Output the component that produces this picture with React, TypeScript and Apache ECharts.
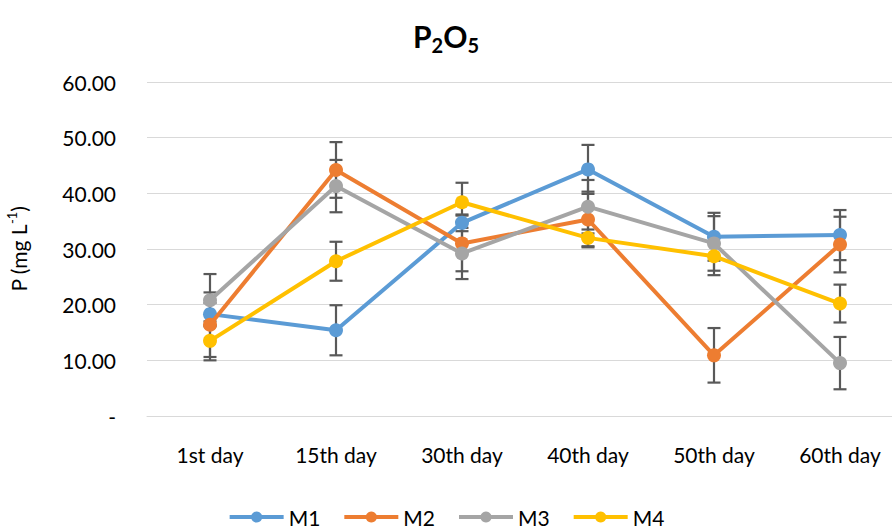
import React, { useEffect, useRef } from "react";
import * as echarts from "echarts";

const categories = ["1st day", "15th day", "30th day", "40th day", "50th day", "60th day"];
const seriesNames = ["M1", "M2", "M3", "M4"];
const m1 = [18.3, 15.4, 34.7, 44.3, 32.2, 32.5];
const m2 = [16.4, 44.2, 31.0, 35.3, 10.9, 30.8];
const m3 = [20.8, 41.3, 29.2, 37.6, 31.0, 9.5];
const m4 = [13.5, 27.8, 38.4, 32.0, 28.7, 20.2];
const e1 = [2.0, 4.5, 1.5, 4.4, 4.3, 4.5];
const e2 = [5.8, 5.0, 5.0, 5.0, 4.9, 5.0];
const e3 = [4.7, 4.7, 4.6, 4.8, 4.9, 4.7];
const e4 = [3.5, 3.5, 3.5, 1.5, 3.4, 3.4];
const colors = ["#5B9BD5", "#ED7D31", "#A5A5A5", "#FFC000"];
const yTicks = [0, 10, 20, 30, 40, 50, 60];

const FONT = "Lato, 'Open Sans', sans-serif";

export default function App() {
  const ref = useRef<HTMLDivElement>(null);
  useEffect(() => {
    if (!ref.current) return;
    const chart = echarts.init(ref.current, undefined, { renderer: "svg" });
    const values = [m1, m2, m3, m4];
    const errs = [e1, e2, e3, e4];
    const errData: number[][] = [];
    values.forEach((vals, s) => {
      vals.forEach((v, i) => {
        errData.push([i, v - errs[s][i], v + errs[s][i]]);
      });
    });
    const lineSeries = values.map((vals, s) => ({
      name: seriesNames[s],
      type: "line",
      data: vals,
      symbol: "circle",
      symbolSize: 14,
      lineStyle: { width: 4, color: colors[s] },
      itemStyle: { color: colors[s] },
      z: 3 + s,
    }));
    const errSeries = {
      type: "custom",
      z: 2,
      silent: true,
      data: errData,
      encode: { x: 0, y: [1, 2] },
      renderItem: (params: any, api: any) => {
        const x = api.value(0);
        const lo = api.coord([x, api.value(1)]);
        const hi = api.coord([x, api.value(2)]);
        const w = 6.5;
        const st = { stroke: "#595959", lineWidth: 2.2 };
        return {
          type: "group",
          children: [
            { type: "line", shape: { x1: lo[0], y1: lo[1], x2: hi[0], y2: hi[1] }, style: st },
            { type: "line", shape: { x1: lo[0] - w, y1: lo[1], x2: lo[0] + w, y2: lo[1] }, style: st },
            { type: "line", shape: { x1: hi[0] - w, y1: hi[1], x2: hi[0] + w, y2: hi[1] }, style: st },
          ],
        };
      },
    };
    chart.setOption({
      animation: false,
      title: {
        text: "{a|P}{b|2}{a|O}{b|5}",
        left: "center",
        top: 12,
        textStyle: {
          rich: {
            a: { fontFamily: FONT, fontSize: 30, fontWeight: "bold", color: "#000", lineHeight: 38, verticalAlign: "middle" },
            b: { fontFamily: FONT, fontSize: 20, fontWeight: "bold", color: "#000", lineHeight: 38, verticalAlign: "bottom", padding: [16, 0, 0, 0] },
          },
        },
      },
      legend: {
        data: seriesNames,
        bottom: 1,
        left: "center",
        padding: 0,
        itemWidth: 54,
        itemHeight: 14,
        itemGap: 22,
        lineStyle: { width: 4 },
        textStyle: { fontFamily: FONT, fontSize: 21, color: "#000", lineHeight: 22 },
      },
      grid: { left: 147, top: 82, width: 756, height: 334, outerBoundsMode: "none", containLabel: false },
      xAxis: {
        type: "category",
        data: categories,
        boundaryGap: true,
        axisLine: { show: true, lineStyle: { color: "#D9D9D9", width: 1 } },
        axisTick: { show: false },
        axisLabel: { fontFamily: FONT, fontSize: 21, color: "#000", margin: 28 },
      },
      yAxis: {
        type: "value",
        min: yTicks[0],
        max: yTicks[yTicks.length - 1],
        interval: 10,
        name: "{a|P (mg L}{b|-1}{a|)}",
        nameLocation: "middle",
        nameGap: 116,
        nameRotate: 90,
        nameTextStyle: {
          rich: {
            a: { fontFamily: FONT, fontSize: 21, color: "#000", lineHeight: 26, verticalAlign: "middle" },
            b: { fontFamily: FONT, fontSize: 13, color: "#000", lineHeight: 26, verticalAlign: "top" },
          },
        },
        axisLine: { show: false },
        axisTick: { show: false },
        splitLine: { lineStyle: { color: "#D9D9D9", width: 1 } },
        axisLabel: {
          fontFamily: FONT,
          fontSize: 21,
          color: "#000",
          margin: 31,
          formatter: (v: number) => (v === 0 ? "-" : v.toFixed(2)),
        },
      },
      series: [errSeries, ...lineSeries],
    });
    return () => chart.dispose();
  }, []);
  return (
    <div
      ref={ref}
      style={{ position: "fixed", left: 0, top: 0, width: 892, height: 529, overflow: "hidden", background: "#fff" }}
    />
  );
}
